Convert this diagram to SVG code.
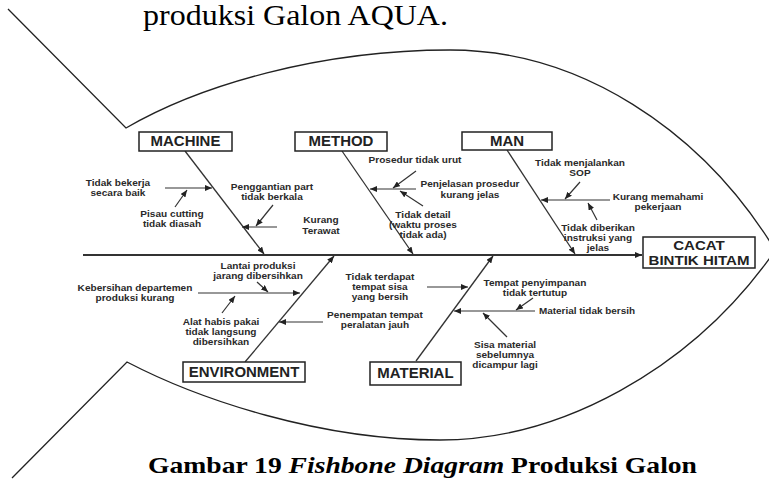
<svg xmlns="http://www.w3.org/2000/svg" width="769" height="481" viewBox="0 0 769 481">
<style>
.bg{fill:#fff}
.fish{fill:none;stroke:#222;stroke-width:1.3}
.spine{stroke:#333;stroke-width:2;fill:none}
.bone{stroke:#333;stroke-width:1.3;fill:none}
.sub{stroke:#333;stroke-width:1.2;fill:none}
.box{fill:#fff;stroke:#222;stroke-width:1.5}
.cat{font-family:"Liberation Sans",Arial,sans-serif;font-weight:bold;font-size:14px;fill:#222;text-anchor:middle;transform-box:fill-box;transform-origin:center;transform:scaleX(1.07)}
.eff{font-family:"Liberation Sans",Arial,sans-serif;font-weight:bold;font-size:13px;fill:#222;text-anchor:middle;transform-box:fill-box;transform-origin:center;transform:scaleX(1.16)}
.lbl{font-family:"Liberation Sans",Arial,sans-serif;font-weight:bold;font-size:9px;fill:#2a2a2a;text-anchor:middle;transform-box:fill-box;transform-origin:center;transform:scaleX(1.12)}
.lbs{font-family:"Liberation Sans",Arial,sans-serif;font-weight:bold;font-size:9px;fill:#2a2a2a;text-anchor:start}
.serif{font-family:"Liberation Serif","Times New Roman",serif;fill:#000}
</style>
<defs>
<marker id="ah" markerUnits="userSpaceOnUse" markerWidth="7" markerHeight="6" refX="7" refY="3" orient="auto">
<path d="M0,0 L7,3 L0,6 z" fill="#222"/>
</marker>
</defs>
<rect class="bg" x="0" y="0" width="769" height="481"/>
<text class="serif" x="143" y="25" font-size="29" textLength="305" lengthAdjust="spacingAndGlyphs">produksi Galon AQUA.</text>
<g id="fish-outline">
<path class="fish" d="M8,9 L126,128 C200,85 320,50 450,50 C580,50 700,130 772,245"/>
<path class="fish" d="M12,478 L127,362 C200,400 320,440 440,440 C560,440 690,370 772,255"/>
</g>
<g id="connectors">
<line class="spine" x1="83" y1="255" x2="642" y2="255" marker-end="url(#ah)"/>
<line class="bone" x1="185" y1="151" x2="264" y2="254" marker-end="url(#ah)"/>
<line class="bone" x1="342" y1="151" x2="413" y2="254" marker-end="url(#ah)"/>
<line class="bone" x1="507" y1="150" x2="575" y2="254" marker-end="url(#ah)"/>
<line class="bone" x1="245" y1="362" x2="334" y2="256" marker-end="url(#ah)"/>
<line class="bone" x1="416" y1="361" x2="493" y2="256" marker-end="url(#ah)"/>
<line class="sub" x1="165" y1="188" x2="212" y2="188" marker-end="url(#ah)"/>
<line class="sub" x1="175" y1="207" x2="187" y2="190" marker-end="url(#ah)"/>
<line class="sub" x1="277" y1="227" x2="242" y2="227" marker-end="url(#ah)"/>
<line class="sub" x1="273" y1="205" x2="256" y2="226" marker-end="url(#ah)"/>
<line class="sub" x1="416" y1="189" x2="370" y2="189" marker-end="url(#ah)"/>
<line class="sub" x1="416" y1="171" x2="393" y2="188" marker-end="url(#ah)"/>
<line class="sub" x1="423" y1="206" x2="400" y2="191" marker-end="url(#ah)"/>
<line class="sub" x1="610" y1="200" x2="541" y2="200" marker-end="url(#ah)"/>
<line class="sub" x1="580" y1="182" x2="565" y2="199" marker-end="url(#ah)"/>
<line class="sub" x1="597" y1="220" x2="588" y2="203" marker-end="url(#ah)"/>
<line class="sub" x1="198" y1="293" x2="300" y2="293" marker-end="url(#ah)"/>
<line class="sub" x1="257" y1="282" x2="268" y2="292" marker-end="url(#ah)"/>
<line class="sub" x1="222" y1="313" x2="235" y2="296" marker-end="url(#ah)"/>
<line class="sub" x1="323" y1="322" x2="279" y2="322" marker-end="url(#ah)"/>
<line class="sub" x1="427" y1="287" x2="468" y2="287" marker-end="url(#ah)"/>
<line class="sub" x1="535" y1="311" x2="454" y2="311" marker-end="url(#ah)"/>
<line class="sub" x1="533" y1="298" x2="516" y2="310" marker-end="url(#ah)"/>
<line class="sub" x1="507" y1="337" x2="483" y2="313" marker-end="url(#ah)"/>
</g>
<g id="effect">
<rect class="box" x="643" y="237" width="112" height="31"/>
<text class="eff" x="699" y="250.5">CACAT</text>
<text class="eff" x="699" y="265.5">BINTIK HITAM</text>
</g>
<g id="machine">
<rect class="box" x="139" y="132" width="93" height="19"/>
<text class="cat" x="185.5" y="146.5">MACHINE</text>
<text class="lbl" x="118" y="186">Tidak bekerja<tspan x="118" dy="10">secara baik</tspan></text>
<text class="lbl" x="172" y="217">Pisau cutting<tspan x="172" dy="10">tidak diasah</tspan></text>
<text class="lbl" x="272" y="190">Penggantian part<tspan x="272" dy="10">tidak berkala</tspan></text>
<text class="lbl" x="321" y="223">Kurang<tspan x="321" dy="11">Terawat</tspan></text>
</g>
<g id="method">
<rect class="box" x="295" y="132" width="92" height="19"/>
<text class="cat" x="341" y="146.5">METHOD</text>
<text class="lbl" x="415" y="163">Prosedur tidak urut</text>
<text class="lbl" x="470" y="187">Penjelasan prosedur<tspan x="470" dy="11">kurang jelas</tspan></text>
<text class="lbl" x="423" y="218">Tidak detail<tspan x="423" dy="10">(waktu proses</tspan><tspan x="423" dy="10">tidak ada)</tspan></text>
</g>
<g id="man">
<rect class="box" x="462" y="132" width="90" height="18"/>
<text class="cat" x="507" y="146">MAN</text>
<text class="lbl" x="580" y="166">Tidak menjalankan<tspan x="580" dy="10">SOP</tspan></text>
<text class="lbl" x="658" y="200">Kurang memahami<tspan x="658" dy="10">pekerjaan</tspan></text>
<text class="lbl" x="598" y="231">Tidak diberikan<tspan x="598" dy="10">instruksi yang</tspan><tspan x="598" dy="10">jelas</tspan></text>
</g>
<g id="environment">
<rect class="box" x="183" y="362" width="122" height="20"/>
<text class="cat" x="244" y="377">ENVIRONMENT</text>
<text class="lbl" x="258" y="269">Lantai produksi<tspan x="258" dy="10">jarang dibersihkan</tspan></text>
<text class="lbl" x="135" y="291">Kebersihan departemen<tspan x="135" dy="10">produksi kurang</tspan></text>
<text class="lbl" x="221" y="325">Alat habis pakai<tspan x="221" dy="10">tidak langsung</tspan><tspan x="221" dy="10">dibersihkan</tspan></text>
<text class="lbl" x="375" y="318">Penempatan tempat<tspan x="375" dy="10">peralatan jauh</tspan></text>
</g>
<g id="material">
<rect class="box" x="370" y="362" width="91" height="23"/>
<text class="cat" x="415.5" y="378.5">MATERIAL</text>
<text class="lbl" x="380" y="280">Tidak terdapat<tspan x="380" dy="10">tempat sisa</tspan><tspan x="380" dy="10">yang bersih</tspan></text>
<text class="lbl" x="535" y="286">Tempat penyimpanan<tspan x="535" dy="10">tidak tertutup</tspan></text>
<text class="lbs" x="539" y="314" textLength="96" lengthAdjust="spacingAndGlyphs">Material tidak bersih</text>
<text class="lbl" x="505" y="348">Sisa material<tspan x="505" dy="10">sebelumnya</tspan><tspan x="505" dy="10">dicampur lagi</tspan></text>
</g>
<text class="serif" x="148" y="473" font-size="24" font-weight="bold" textLength="549" lengthAdjust="spacingAndGlyphs">Gambar 19 <tspan font-style="italic">Fishbone Diagram</tspan> Produksi Galon</text>
</svg>
